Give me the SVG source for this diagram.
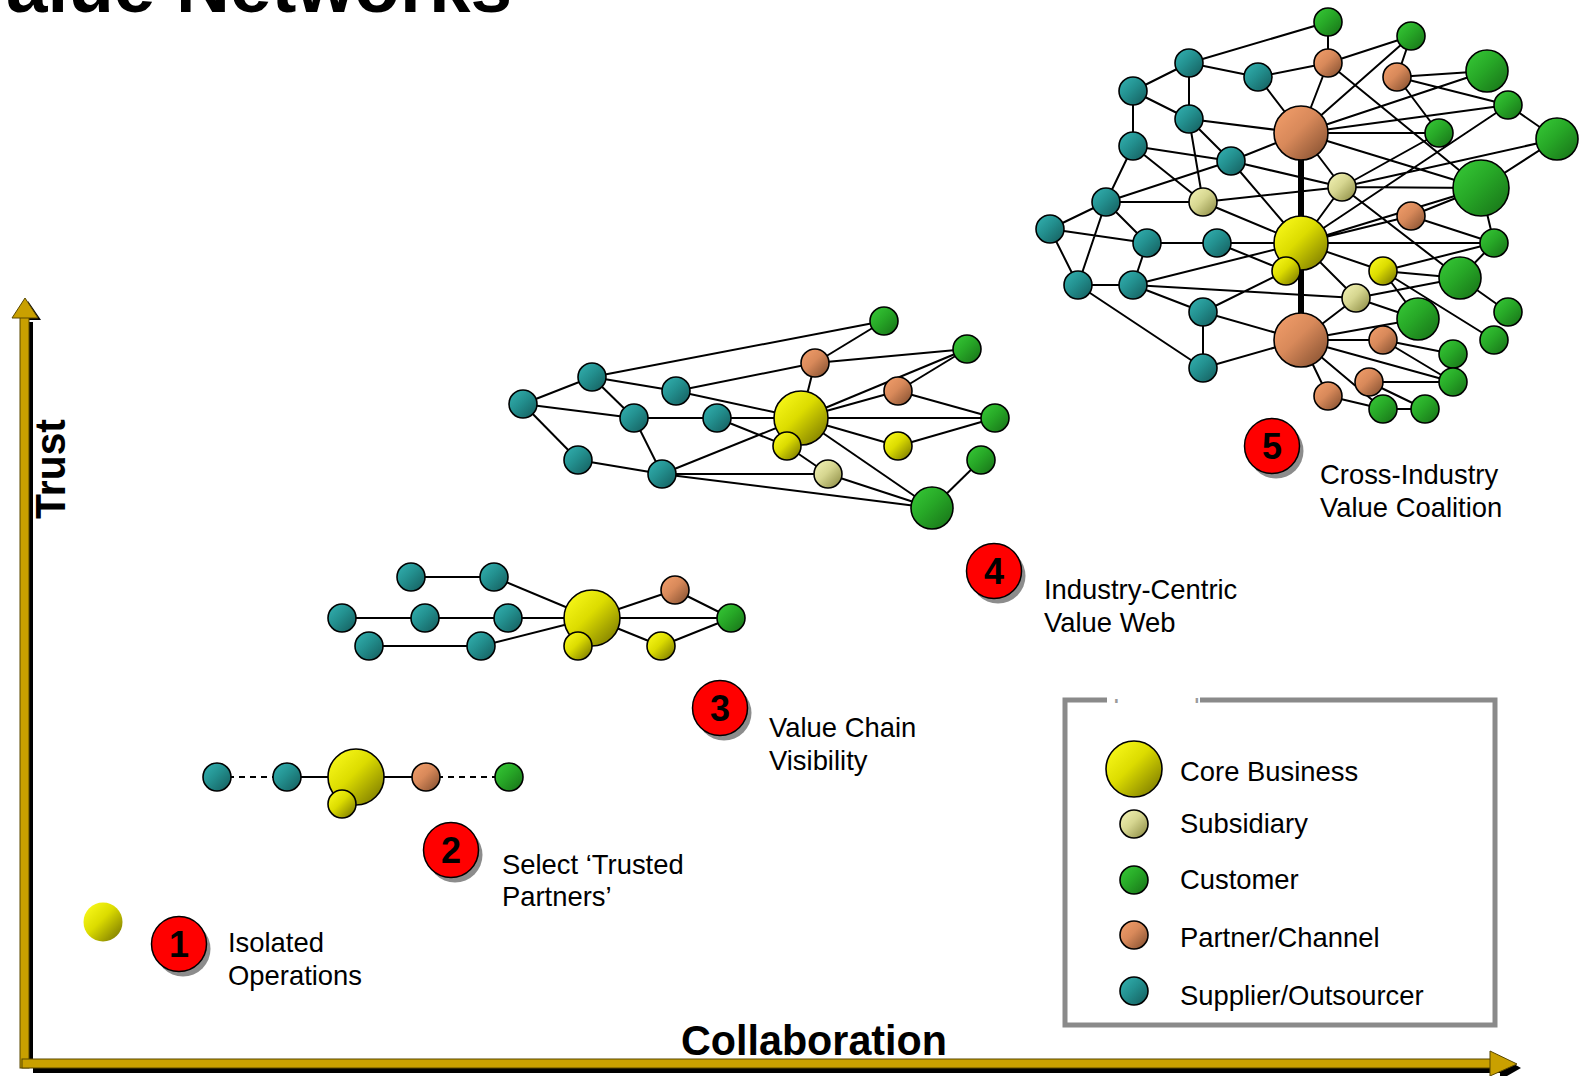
<svg xmlns="http://www.w3.org/2000/svg" width="1589" height="1076" viewBox="0 0 1589 1076">
<style>
text{font-family:"Liberation Sans",Arial,sans-serif;fill:#000}
.lbl{font-size:27.4px}
.num{font-size:36px;font-weight:bold;text-anchor:middle}
.ax{font-size:42px;font-weight:bold}
.e{stroke:#000;stroke-width:2;fill:none}
.d{stroke:#000;stroke-width:2;fill:none;stroke-dasharray:6 5}
.thick{stroke:#000;stroke-width:6;fill:none}
.b{stroke:#000;stroke-width:1.6}
.core{fill:url(#gCore)}
.sub{fill:url(#gSub)}
.cus{fill:url(#gCus)}
.par{fill:url(#gPar)}
.sup{fill:url(#gSup)}
.badge{fill:#ff0000;stroke:#000;stroke-width:1.5}
.shadow{fill:#8c8c8c}
</style>
<defs>
<linearGradient id="gCore" x1="0" y1="0" x2="1" y2="1"><stop offset="0" stop-color="#ffff20"/><stop offset="0.45" stop-color="#dcdc00"/><stop offset="1" stop-color="#6e6c00"/></linearGradient>
<linearGradient id="gSub" x1="0" y1="0" x2="1" y2="1"><stop offset="0" stop-color="#f6f6b8"/><stop offset="0.45" stop-color="#d6d690"/><stop offset="1" stop-color="#85843c"/></linearGradient>
<linearGradient id="gCus" x1="0" y1="0" x2="1" y2="1"><stop offset="0" stop-color="#38cc38"/><stop offset="0.45" stop-color="#27a827"/><stop offset="1" stop-color="#176e17"/></linearGradient>
<linearGradient id="gPar" x1="0" y1="0" x2="1" y2="1"><stop offset="0" stop-color="#f5a06c"/><stop offset="0.45" stop-color="#d8895a"/><stop offset="1" stop-color="#7c4a2c"/></linearGradient>
<linearGradient id="gSup" x1="0" y1="0" x2="1" y2="1"><stop offset="0" stop-color="#34b4b4"/><stop offset="0.45" stop-color="#23908f"/><stop offset="1" stop-color="#145a5a"/></linearGradient>
<clipPath id="legClip"><rect x="1100" y="690" width="110" height="13"/></clipPath>
</defs>
<rect width="1589" height="1076" fill="#fff"/>

<text x="6" y="12" style="font-size:74px;font-weight:bold" textLength="506" lengthAdjust="spacingAndGlyphs">alue Networks</text>

<g id="axes">
<polygon points="33,322 33,1073 1500,1073 1500,1080 1521,1068 1500,1056 1500,1064 29,1064 29,322" fill="#000"/>
<polygon points="29,320 41,320 28,301" fill="#000"/>
<rect x="20" y="316" width="9" height="752" fill="#c9a000" stroke="#5a4800" stroke-width="1"/>
<polygon points="12,318 25,298 38,318" fill="#c9a000" stroke="#5a4800" stroke-width="1"/>
<rect x="22" y="1059" width="1470" height="9" fill="#c9a000" stroke="#5a4800" stroke-width="1"/>
<polygon points="1490,1051 1517,1064 1490,1076" fill="#c9a000" stroke="#5a4800" stroke-width="1"/>
<text class="ax" transform="translate(65,469) rotate(-90)" text-anchor="middle" textLength="100" lengthAdjust="spacingAndGlyphs">Trust</text>
<text class="ax" x="681" y="1055" textLength="266" lengthAdjust="spacingAndGlyphs">Collaboration</text>
</g>

<g id="connectors">
<!-- network 2 -->
<line class="d" x1="217" y1="777" x2="287" y2="777"/>
<line class="e" x1="287" y1="777" x2="356" y2="777"/>
<line class="e" x1="356" y1="777" x2="426" y2="777"/>
<line class="d" x1="426" y1="777" x2="509" y2="777"/>
<!-- network 3 -->
<line class="e" x1="411" y1="577" x2="494" y2="577"/>
<line class="e" x1="494" y1="577" x2="592" y2="618"/>
<line class="e" x1="342" y1="618" x2="592" y2="618"/>
<line class="e" x1="369" y1="646" x2="481" y2="646"/>
<line class="e" x1="481" y1="646" x2="592" y2="618"/>
<line class="e" x1="592" y1="618" x2="675" y2="590"/>
<line class="e" x1="592" y1="618" x2="731" y2="618"/>
<line class="e" x1="592" y1="618" x2="661" y2="646"/>
<line class="e" x1="675" y1="590" x2="731" y2="618"/>
<line class="e" x1="661" y1="646" x2="731" y2="618"/>
<!-- network 4 -->
<line class="e" x1="523" y1="404" x2="592" y2="377"/>
<line class="e" x1="523" y1="404" x2="634" y2="418"/>
<line class="e" x1="523" y1="404" x2="578" y2="460"/>
<line class="e" x1="592" y1="377" x2="884" y2="321"/>
<line class="e" x1="592" y1="377" x2="676" y2="391"/>
<line class="e" x1="592" y1="377" x2="634" y2="418"/>
<line class="e" x1="676" y1="391" x2="815" y2="363"/>
<line class="e" x1="676" y1="391" x2="801" y2="418"/>
<line class="e" x1="634" y1="418" x2="801" y2="418"/>
<line class="e" x1="634" y1="418" x2="662" y2="474"/>
<line class="e" x1="717" y1="418" x2="787" y2="446"/>
<line class="e" x1="787" y1="446" x2="828" y2="474"/>
<line class="e" x1="578" y1="460" x2="662" y2="474"/>
<line class="e" x1="662" y1="474" x2="801" y2="418"/>
<line class="e" x1="662" y1="474" x2="828" y2="474"/>
<line class="e" x1="662" y1="474" x2="932" y2="508"/>
<line class="e" x1="815" y1="363" x2="884" y2="321"/>
<line class="e" x1="815" y1="363" x2="967" y2="349"/>
<line class="e" x1="815" y1="363" x2="801" y2="418"/>
<line class="e" x1="801" y1="418" x2="967" y2="349"/>
<line class="e" x1="801" y1="418" x2="898" y2="391"/>
<line class="e" x1="801" y1="418" x2="995" y2="418"/>
<line class="e" x1="801" y1="418" x2="898" y2="446"/>
<line class="e" x1="801" y1="418" x2="932" y2="508"/>
<line class="e" x1="898" y1="391" x2="967" y2="349"/>
<line class="e" x1="898" y1="391" x2="995" y2="418"/>
<line class="e" x1="898" y1="446" x2="995" y2="418"/>
<line class="e" x1="828" y1="474" x2="932" y2="508"/>
<line class="e" x1="981" y1="460" x2="932" y2="508"/>
<!-- network 5 -->
<path class="e" d="M1189,63L1328,22 M1189,63L1258,77 M1189,63L1133,91 M1189,63L1189,119 M1258,77L1328,63 M1258,77L1301,133 M1133,91L1133,146 M1133,91L1189,119 M1189,119L1301,133 M1189,119L1231,161 M1189,119L1203,202 M1133,146L1231,161 M1133,146L1106,202 M1133,146L1203,202 M1231,161L1301,133 M1231,161L1342,187 M1231,161L1301,243 M1106,202L1203,202 M1106,202L1050,229 M1106,202L1147,243 M1106,202L1078,285 M1106,202L1231,161 M1050,229L1147,243 M1050,229L1078,285 M1147,243L1217,243 M1147,243L1133,285 M1217,243L1301,243 M1217,243L1286,271 M1203,202L1301,243 M1203,202L1342,187 M1078,285L1133,285 M1078,285L1203,368 M1133,285L1301,243 M1133,285L1203,312 M1133,285L1356,298 M1203,312L1286,271 M1203,312L1301,340 M1203,312L1203,368 M1203,368L1301,340"/>
<path class="e" d="M1328,22L1328,63 M1328,63L1301,133 M1328,63L1411,36 M1328,63L1481,188 M1397,77L1411,36 M1301,133L1411,36 M1397,77L1487,71 M1397,77L1508,105 M1397,77L1439,133 M1301,133L1487,71 M1301,133L1508,105 M1301,133L1439,133 M1301,133L1481,188 M1301,133L1342,187 M1508,105L1557,139 M1342,187L1439,133 M1342,187L1481,188 M1342,187L1557,139 M1342,187L1301,243 M1342,187L1460,278 M1301,243L1508,105 M1301,243L1481,188 M1557,139L1481,188 M1411,216L1301,243 M1411,216L1481,188 M1411,216L1494,243 M1301,243L1494,243 M1481,188L1494,243 M1494,243L1460,278 M1494,243L1383,271 M1301,243L1383,271 M1383,271L1460,278 M1383,271L1418,319 M1383,271L1494,340 M1460,278L1508,312 M1460,278L1356,298 M1301,243L1356,298 M1356,298L1301,340 M1356,298L1418,319 M1301,340L1418,319 M1301,340L1383,340 M1301,340L1453,382 M1301,340L1383,409 M1301,340L1328,396 M1328,396L1383,409 M1369,382L1453,382 M1369,382L1425,409 M1383,409L1425,409 M1383,340L1453,354 M1383,340L1453,382"/>
<path class="thick" d="M1301,133L1301,340"/>
</g>

<!-- network 1 -->
<g id="n1_core"><circle cx="103" cy="922" r="19.5" class="core"/></g>

<!-- network 2 nodes -->
<g id="n2_t1"><circle class="b sup" cx="217" cy="777" r="14"/></g>
<g id="n2_t2"><circle class="b sup" cx="287" cy="777" r="14"/></g>
<g id="n2_core"><circle class="b core" cx="356" cy="777" r="28"/></g>
<g id="n2_sub"><circle class="b core" cx="342" cy="804" r="14"/></g>
<g id="n2_par"><circle class="b par" cx="426" cy="777" r="14"/></g>
<g id="n2_cus"><circle class="b cus" cx="509" cy="777" r="14"/></g>

<!-- network 3 nodes -->
<g id="n3_a"><circle class="b sup" cx="411" cy="577" r="14"/></g>
<g id="n3_b"><circle class="b sup" cx="494" cy="577" r="14"/></g>
<g id="n3_c"><circle class="b sup" cx="342" cy="618" r="14"/></g>
<g id="n3_d"><circle class="b sup" cx="425" cy="618" r="14"/></g>
<g id="n3_e"><circle class="b sup" cx="508" cy="618" r="14"/></g>
<g id="n3_f"><circle class="b sup" cx="369" cy="646" r="14"/></g>
<g id="n3_g"><circle class="b sup" cx="481" cy="646" r="14"/></g>
<g id="n3_core"><circle class="b core" cx="592" cy="618" r="28"/></g>
<g id="n3_y1"><circle class="b core" cx="578" cy="646" r="14"/></g>
<g id="n3_o"><circle class="b par" cx="675" cy="590" r="14"/></g>
<g id="n3_y2"><circle class="b core" cx="661" cy="646" r="14"/></g>
<g id="n3_gr"><circle class="b cus" cx="731" cy="618" r="14"/></g>

<!-- network 4 nodes -->
<g id="n4_A"><circle class="b sup" cx="523" cy="404" r="14"/></g>
<g id="n4_B"><circle class="b sup" cx="592" cy="377" r="14"/></g>
<g id="n4_C"><circle class="b sup" cx="676" cy="391" r="14"/></g>
<g id="n4_D"><circle class="b sup" cx="634" cy="418" r="14"/></g>
<g id="n4_E"><circle class="b sup" cx="717" cy="418" r="14"/></g>
<g id="n4_F"><circle class="b sup" cx="578" cy="460" r="14"/></g>
<g id="n4_H"><circle class="b sup" cx="662" cy="474" r="14"/></g>
<g id="n4_G1"><circle class="b cus" cx="884" cy="321" r="14"/></g>
<g id="n4_G2"><circle class="b cus" cx="967" cy="349" r="14"/></g>
<g id="n4_O1"><circle class="b par" cx="815" cy="363" r="14"/></g>
<g id="n4_O2"><circle class="b par" cx="898" cy="391" r="14"/></g>
<g id="n4_core"><circle class="b core" cx="801" cy="418" r="27"/></g>
<g id="n4_G3"><circle class="b cus" cx="995" cy="418" r="14"/></g>
<g id="n4_Y1"><circle class="b core" cx="787" cy="446" r="14"/></g>
<g id="n4_Y2"><circle class="b core" cx="898" cy="446" r="14"/></g>
<g id="n4_S"><circle class="b sub" cx="828" cy="474" r="14"/></g>
<g id="n4_G4"><circle class="b cus" cx="981" cy="460" r="14"/></g>
<g id="n4_G5"><circle class="b cus" cx="932" cy="508" r="21"/></g>

<!-- network 5 nodes -->
<g id="n5_T1"><circle class="b sup" cx="1189" cy="63" r="14"/></g>
<g id="n5_T2"><circle class="b sup" cx="1258" cy="77" r="14"/></g>
<g id="n5_T3"><circle class="b sup" cx="1133" cy="91" r="14"/></g>
<g id="n5_T4"><circle class="b sup" cx="1189" cy="119" r="14"/></g>
<g id="n5_T5"><circle class="b sup" cx="1133" cy="146" r="14"/></g>
<g id="n5_T6"><circle class="b sup" cx="1231" cy="161" r="14"/></g>
<g id="n5_S1"><circle class="b sub" cx="1203" cy="202" r="14"/></g>
<g id="n5_T7"><circle class="b sup" cx="1106" cy="202" r="14"/></g>
<g id="n5_T8"><circle class="b sup" cx="1050" cy="229" r="14"/></g>
<g id="n5_T9"><circle class="b sup" cx="1147" cy="243" r="14"/></g>
<g id="n5_T10"><circle class="b sup" cx="1217" cy="243" r="14"/></g>
<g id="n5_T11"><circle class="b sup" cx="1078" cy="285" r="14"/></g>
<g id="n5_T12"><circle class="b sup" cx="1133" cy="285" r="14"/></g>
<g id="n5_T13"><circle class="b sup" cx="1203" cy="312" r="14"/></g>
<g id="n5_T14"><circle class="b sup" cx="1203" cy="368" r="14"/></g>
<g id="n5_OT"><circle class="b par" cx="1301" cy="133" r="27"/></g>
<g id="n5_C"><circle class="b core" cx="1301" cy="243" r="27"/></g>
<g id="n5_OB"><circle class="b par" cx="1301" cy="340" r="27"/></g>
<g id="n5_Y1"><circle class="b core" cx="1286" cy="271" r="14"/></g>
<g id="n5_G1"><circle class="b cus" cx="1328" cy="22" r="14"/></g>
<g id="n5_G2"><circle class="b cus" cx="1411" cy="36" r="14"/></g>
<g id="n5_O1"><circle class="b par" cx="1328" cy="63" r="14"/></g>
<g id="n5_O2"><circle class="b par" cx="1397" cy="77" r="14"/></g>
<g id="n5_G3"><circle class="b cus" cx="1487" cy="71" r="21"/></g>
<g id="n5_G4"><circle class="b cus" cx="1508" cy="105" r="14"/></g>
<g id="n5_G5"><circle class="b cus" cx="1439" cy="133" r="14"/></g>
<g id="n5_G6"><circle class="b cus" cx="1557" cy="139" r="21"/></g>
<g id="n5_S2"><circle class="b sub" cx="1342" cy="187" r="14"/></g>
<g id="n5_G7"><circle class="b cus" cx="1481" cy="188" r="28"/></g>
<g id="n5_O3"><circle class="b par" cx="1411" cy="216" r="14"/></g>
<g id="n5_G8"><circle class="b cus" cx="1494" cy="243" r="14"/></g>
<g id="n5_Y2"><circle class="b core" cx="1383" cy="271" r="14"/></g>
<g id="n5_G9"><circle class="b cus" cx="1460" cy="278" r="21"/></g>
<g id="n5_S3"><circle class="b sub" cx="1356" cy="298" r="14"/></g>
<g id="n5_G10"><circle class="b cus" cx="1508" cy="312" r="14"/></g>
<g id="n5_G11"><circle class="b cus" cx="1418" cy="319" r="21"/></g>
<g id="n5_O4"><circle class="b par" cx="1383" cy="340" r="14"/></g>
<g id="n5_G12"><circle class="b cus" cx="1494" cy="340" r="14"/></g>
<g id="n5_G13"><circle class="b cus" cx="1453" cy="354" r="14"/></g>
<g id="n5_O5"><circle class="b par" cx="1369" cy="382" r="14"/></g>
<g id="n5_G14"><circle class="b cus" cx="1453" cy="382" r="14"/></g>
<g id="n5_O6"><circle class="b par" cx="1328" cy="396" r="14"/></g>
<g id="n5_G15"><circle class="b cus" cx="1383" cy="409" r="14"/></g>
<g id="n5_G16"><circle class="b cus" cx="1425" cy="409" r="14"/></g>

<!-- badges and labels -->
<g id="stage1"><circle class="shadow" cx="183" cy="949" r="27.5"/><circle class="badge" cx="179" cy="944" r="27.5"/><text class="num" x="179" y="957">1</text>
<text class="lbl" x="228" y="952">Isolated</text><text class="lbl" x="228" y="985">Operations</text></g>
<g id="stage2"><circle class="shadow" cx="455" cy="855" r="27.5"/><circle class="badge" cx="451" cy="850" r="27.5"/><text class="num" x="451" y="863">2</text>
<text class="lbl" x="502" y="874">Select ‘Trusted</text><text class="lbl" x="502" y="906">Partners’</text></g>
<g id="stage3"><circle class="shadow" cx="724" cy="713" r="27.5"/><circle class="badge" cx="720" cy="708" r="27.5"/><text class="num" x="720" y="721">3</text>
<text class="lbl" x="769" y="737">Value Chain</text><text class="lbl" x="769" y="770">Visibility</text></g>
<g id="stage4"><circle class="shadow" cx="998" cy="576" r="27.5"/><circle class="badge" cx="994" cy="571" r="27.5"/><text class="num" x="994" y="584">4</text>
<text class="lbl" x="1044" y="599">Industry-Centric</text><text class="lbl" x="1044" y="632">Value Web</text></g>
<g id="stage5"><circle class="shadow" cx="1276" cy="451" r="27.5"/><circle class="badge" cx="1272" cy="446" r="27.5"/><text class="num" x="1272" y="459">5</text>
<text class="lbl" x="1320" y="484">Cross-Industry</text><text class="lbl" x="1320" y="517">Value Coalition</text></g>

<!-- legend -->
<g id="legend">
<rect x="1065" y="700" width="430" height="325" fill="#fff" stroke="#8a8a8a" stroke-width="5"/>
<rect x="1107" y="696" width="93" height="8" fill="#fff"/>
<text x="1113" y="717" clip-path="url(#legClip)" style="font-size:26px;fill:#9a9a9a">Legend</text>
<circle class="b core" cx="1134" cy="769" r="28"/><text class="lbl" x="1180" y="781">Core Business</text>
<circle class="b sub" cx="1134" cy="824" r="14"/><text class="lbl" x="1180" y="833">Subsidiary</text>
<circle class="b cus" cx="1134" cy="880" r="14"/><text class="lbl" x="1180" y="889">Customer</text>
<circle class="b par" cx="1134" cy="935" r="14"/><text class="lbl" x="1180" y="947">Partner/Channel</text>
<circle class="b sup" cx="1134" cy="991" r="14"/><text class="lbl" x="1180" y="1005">Supplier/Outsourcer</text>
</g>
</svg>
